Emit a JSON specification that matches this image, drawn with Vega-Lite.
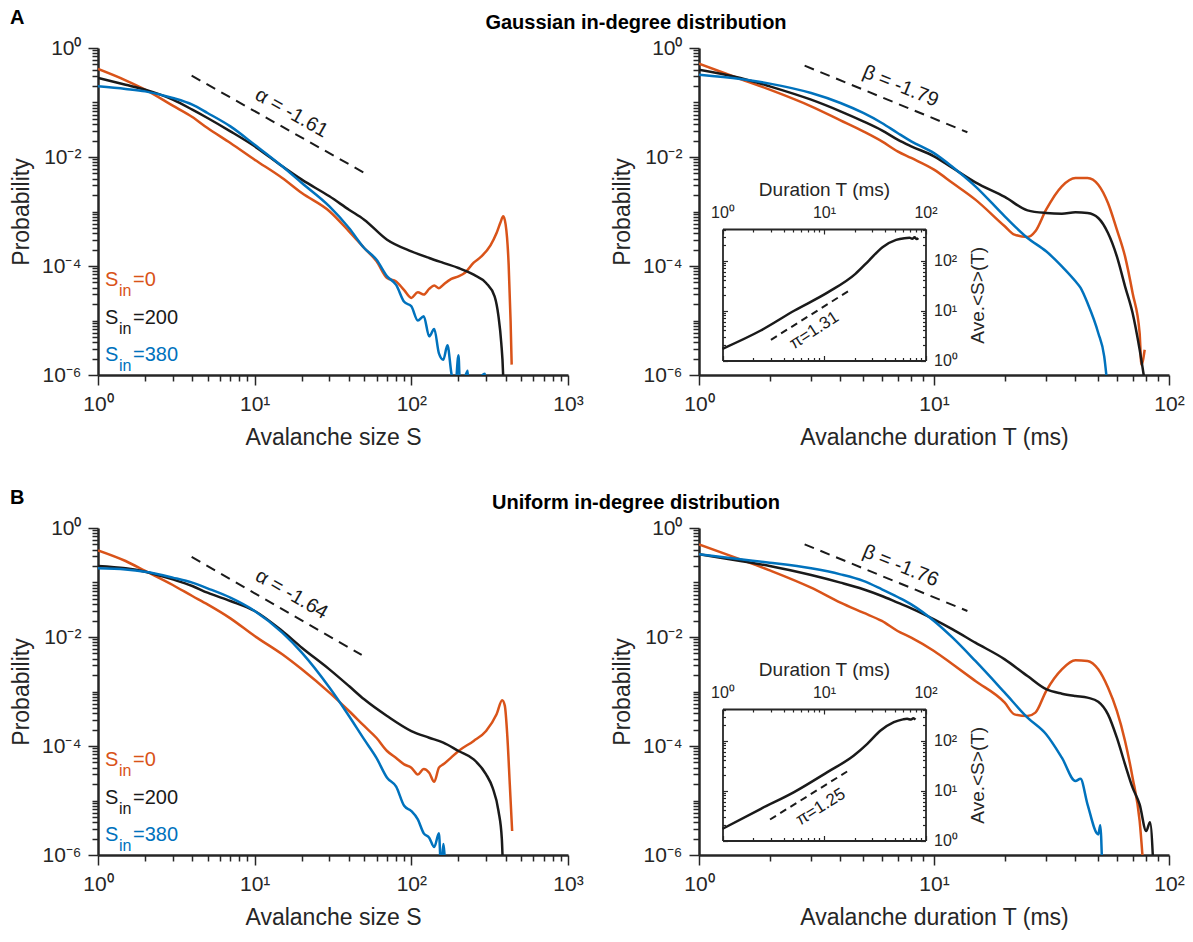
{
 "$schema": "https://vega.github.io/schema/vega-lite/v6.json",
 "background": "white",
 "padding": {"left": 10, "top": 8, "right": 5, "bottom": 5},
 "autosize": {"type": "pad"},
 "config": {
  "font": "Liberation Sans",
  "view": {"stroke": null},
  "axis": {"grid": false, "domainColor": "#262626", "domainWidth": 2.5, "tickColor": "#262626", "tickWidth": 1.5, "labelColor": "#262626", "labelFontSize": 21, "titleColor": "#262626", "titleFontSize": 23, "titleFontWeight": "normal", "labelFlush": false, "labelOverlap": false},
  "title": {"fontSize": 20, "fontWeight": "bold", "color": "#000000"}
 },
 "datasets": {
  "tl": [
   {"Sin":"0","S":1,"P":0.412},{"Sin":"0","S":1.5,"P":0.255},{"Sin":"0","S":2,"P":0.172},{"Sin":"0","S":3,"P":0.0875},{"Sin":"0","S":4,"P":0.0542},{"Sin":"0","S":5,"P":0.034},{"Sin":"0","S":7,"P":0.0181},{"Sin":"0","S":10,"P":0.00893},{"Sin":"0","S":15,"P":0.00412},{"Sin":"0","S":20,"P":0.00218},{"Sin":"0","S":30,"P":0.00101},{"Sin":"0","S":40,"P":0.000433},{"Sin":"0","S":50,"P":0.000214},{"Sin":"0","S":60,"P":0.000122},{"Sin":"0","S":70,"P":0.00006},{"Sin":"0","S":80,"P":0.000052},{"Sin":"0","S":90,"P":0.000036},{"Sin":"0","S":100,"P":0.000026},{"Sin":"0","S":110,"P":0.000033},{"Sin":"0","S":120,"P":0.00003},{"Sin":"0","S":130,"P":0.000038},{"Sin":"0","S":140,"P":0.000044},{"Sin":"0","S":150,"P":0.000039},{"Sin":"0","S":160,"P":0.0000454},{"Sin":"0","S":180,"P":0.000058},{"Sin":"0","S":200,"P":0.0000646},{"Sin":"0","S":220,"P":0.000075},{"Sin":"0","S":250,"P":0.000115},{"Sin":"0","S":280,"P":0.00015},{"Sin":"0","S":320,"P":0.00024},{"Sin":"0","S":350,"P":0.000403},{"Sin":"0","S":370,"P":0.00062},{"Sin":"0","S":386,"P":0.000817},{"Sin":"0","S":400,"P":0.000575},{"Sin":"0","S":418,"P":0.000106},{"Sin":"0","S":430,"P":0.00001},{"Sin":"0","S":437,"P":0.00000155},
   {"Sin":"200","S":1,"P":0.282},{"Sin":"200","S":1.5,"P":0.212},{"Sin":"200","S":2,"P":0.172},{"Sin":"200","S":3,"P":0.1127},{"Sin":"200","S":4,"P":0.0739},{"Sin":"200","S":5,"P":0.052},{"Sin":"200","S":7,"P":0.0296},{"Sin":"200","S":10,"P":0.0157},{"Sin":"200","S":15,"P":0.00675},{"Sin":"200","S":20,"P":0.00384},{"Sin":"200","S":30,"P":0.0019},{"Sin":"200","S":40,"P":0.00108},{"Sin":"200","S":50,"P":0.000708},{"Sin":"200","S":70,"P":0.000304},{"Sin":"200","S":100,"P":0.000186},{"Sin":"200","S":130,"P":0.00014},{"Sin":"200","S":160,"P":0.000114},{"Sin":"200","S":200,"P":0.0000919},{"Sin":"200","S":250,"P":0.0000693},{"Sin":"200","S":300,"P":0.0000488},{"Sin":"200","S":340,"P":0.0000277},{"Sin":"200","S":360,"P":0.0000119},{"Sin":"200","S":375,"P":0.00000386},{"Sin":"200","S":385,"P":0.00000109},{"Sin":"200","S":388,"P":0.0000005},
   {"Sin":"380","S":1,"P":0.198},{"Sin":"380","S":1.5,"P":0.177},{"Sin":"380","S":2,"P":0.16},{"Sin":"380","S":3,"P":0.121},{"Sin":"380","S":4,"P":0.0912},{"Sin":"380","S":5,"P":0.0642},{"Sin":"380","S":7,"P":0.0365},{"Sin":"380","S":10,"P":0.0168},{"Sin":"380","S":15,"P":0.00675},{"Sin":"380","S":20,"P":0.00333},{"Sin":"380","S":30,"P":0.00124},{"Sin":"380","S":40,"P":0.000498},{"Sin":"380","S":50,"P":0.000214},{"Sin":"380","S":60,"P":0.00013},{"Sin":"380","S":70,"P":0.0000646},{"Sin":"380","S":80,"P":0.000045},{"Sin":"380","S":90,"P":0.000022},{"Sin":"380","S":100,"P":0.0000182},{"Sin":"380","S":110,"P":0.00001},{"Sin":"380","S":120,"P":0.000012},{"Sin":"380","S":130,"P":0.00000512},{"Sin":"380","S":140,"P":0.000007},{"Sin":"380","S":150,"P":0.0000025},{"Sin":"380","S":160,"P":0.00000191},{"Sin":"380","S":170,"P":0.0000035},{"Sin":"380","S":180,"P":0.00000109},{"Sin":"380","S":190,"P":0.0000005},{"Sin":"380","S":200,"P":0.0000023},{"Sin":"380","S":205,"P":0.0000005},{"Sin":"380","S":229,"P":0.0000012},{"Sin":"380","S":232,"P":0.0000005},{"Sin":"380","S":295,"P":0.00000105},{"Sin":"380","S":298,"P":0.0000005}
  ],
  "tr": [
   {"Sin":"0","T":1,"P":0.516},{"Sin":"0","T":1.5,"P":0.27},{"Sin":"0","T":2,"P":0.172},{"Sin":"0","T":3,"P":0.0851},{"Sin":"0","T":4,"P":0.0471},{"Sin":"0","T":5,"P":0.0296},{"Sin":"0","T":6,"P":0.0194},{"Sin":"0","T":7,"P":0.0127},{"Sin":"0","T":8,"P":0.00959},{"Sin":"0","T":10,"P":0.00586},{"Sin":"0","T":12,"P":0.00333},{"Sin":"0","T":15,"P":0.00165},{"Sin":"0","T":20,"P":0.000535},{"Sin":"0","T":22,"P":0.000376},{"Sin":"0","T":25,"P":0.00034},{"Sin":"0","T":27,"P":0.000433},{"Sin":"0","T":30,"P":0.00108},{"Sin":"0","T":35,"P":0.0029},{"Sin":"0","T":40,"P":0.00412},{"Sin":"0","T":45,"P":0.00412},{"Sin":"0","T":50,"P":0.0031},{"Sin":"0","T":55,"P":0.00143},{"Sin":"0","T":60,"P":0.000464},{"Sin":"0","T":65,"P":0.00015},{"Sin":"0","T":70,"P":0.000032},{"Sin":"0","T":75,"P":0.0000059},{"Sin":"0","T":76.3,"P":0.00000155},{"Sin":"0","T":78.8,"P":0.0000029},
   {"Sin":"200","T":1,"P":0.4},{"Sin":"200","T":1.5,"P":0.282},{"Sin":"200","T":2,"P":0.198},{"Sin":"200","T":3,"P":0.1127},{"Sin":"200","T":4,"P":0.0689},{"Sin":"200","T":5,"P":0.0451},{"Sin":"200","T":6,"P":0.0308},{"Sin":"200","T":7,"P":0.0208},{"Sin":"200","T":8,"P":0.0157},{"Sin":"200","T":10,"P":0.0103},{"Sin":"200","T":12,"P":0.00628},{"Sin":"200","T":15,"P":0.00343},{"Sin":"200","T":20,"P":0.00185},{"Sin":"200","T":25,"P":0.00105},{"Sin":"200","T":30,"P":0.000938},{"Sin":"200","T":35,"P":0.000912},{"Sin":"200","T":40,"P":0.000966},{"Sin":"200","T":45,"P":0.000938},{"Sin":"200","T":50,"P":0.00076},{"Sin":"200","T":55,"P":0.000403},{"Sin":"200","T":60,"P":0.00015},{"Sin":"200","T":65,"P":0.0000424},{"Sin":"200","T":70,"P":0.0000137},{"Sin":"200","T":75,"P":0.00000292},{"Sin":"200","T":80,"P":0.0000005},
   {"Sin":"380","T":1,"P":0.324},{"Sin":"380","T":1.5,"P":0.27},{"Sin":"380","T":2,"P":0.222},{"Sin":"380","T":3,"P":0.149},{"Sin":"380","T":4,"P":0.0979},{"Sin":"380","T":5,"P":0.0642},{"Sin":"380","T":6,"P":0.0421},{"Sin":"380","T":7,"P":0.0276},{"Sin":"380","T":8,"P":0.0194},{"Sin":"380","T":10,"P":0.0118},{"Sin":"380","T":12,"P":0.00656},{"Sin":"380","T":15,"P":0.0029},{"Sin":"380","T":20,"P":0.000815},{"Sin":"380","T":25,"P":0.000327},{"Sin":"380","T":30,"P":0.000186},{"Sin":"380","T":35,"P":0.0000986},{"Sin":"380","T":40,"P":0.0000524},{"Sin":"380","T":42,"P":0.00004},{"Sin":"380","T":45,"P":0.0000209},{"Sin":"380","T":50,"P":0.0000059},{"Sin":"380","T":53,"P":0.0000022},{"Sin":"380","T":55,"P":0.0000005}
  ],
  "bl": [
   {"Sin":"0","S":1,"P":0.389},{"Sin":"0","S":1.5,"P":0.248},{"Sin":"0","S":2,"P":0.163},{"Sin":"0","S":3,"P":0.09},{"Sin":"0","S":4,"P":0.0565},{"Sin":"0","S":5,"P":0.0397},{"Sin":"0","S":7,"P":0.022},{"Sin":"0","S":10,"P":0.0104},{"Sin":"0","S":15,"P":0.00481},{"Sin":"0","S":20,"P":0.00255},{"Sin":"0","S":30,"P":0.000952},{"Sin":"0","S":40,"P":0.000439},{"Sin":"0","S":50,"P":0.000233},{"Sin":"0","S":60,"P":0.00014},{"Sin":"0","S":70,"P":0.000081},{"Sin":"0","S":80,"P":0.00006},{"Sin":"0","S":90,"P":0.000046},{"Sin":"0","S":100,"P":0.00004},{"Sin":"0","S":110,"P":0.00003},{"Sin":"0","S":120,"P":0.000038},{"Sin":"0","S":130,"P":0.0000324},{"Sin":"0","S":140,"P":0.000022},{"Sin":"0","S":150,"P":0.00004},{"Sin":"0","S":160,"P":0.0000461},{"Sin":"0","S":180,"P":0.000062},{"Sin":"0","S":200,"P":0.000081},{"Sin":"0","S":250,"P":0.000124},{"Sin":"0","S":300,"P":0.000188},{"Sin":"0","S":350,"P":0.000381},{"Sin":"0","S":380,"P":0.00069},{"Sin":"0","S":395,"P":0.00055},{"Sin":"0","S":410,"P":0.00015},{"Sin":"0","S":425,"P":0.00002},{"Sin":"0","S":440,"P":0.00000275},
   {"Sin":"200","S":1,"P":0.201},{"Sin":"200","S":1.5,"P":0.182},{"Sin":"200","S":2,"P":0.158},{"Sin":"200","S":3,"P":0.114},{"Sin":"200","S":4,"P":0.0863},{"Sin":"200","S":5,"P":0.065},{"Sin":"200","S":7,"P":0.0458},{"Sin":"200","S":10,"P":0.03},{"Sin":"200","S":15,"P":0.0129},{"Sin":"200","S":20,"P":0.00637},{"Sin":"200","S":30,"P":0.00255},{"Sin":"200","S":40,"P":0.00126},{"Sin":"200","S":50,"P":0.000718},{"Sin":"200","S":70,"P":0.000355},{"Sin":"200","S":100,"P":0.000188},{"Sin":"200","S":130,"P":0.000142},{"Sin":"200","S":160,"P":0.000115},{"Sin":"200","S":200,"P":0.000081},{"Sin":"200","S":250,"P":0.0000569},{"Sin":"200","S":300,"P":0.0000302},{"Sin":"200","S":330,"P":0.0000172},{"Sin":"200","S":360,"P":0.00000641},{"Sin":"200","S":378,"P":0.000002},{"Sin":"200","S":385,"P":0.0000005},
   {"Sin":"380","S":1,"P":0.182},{"Sin":"380","S":1.5,"P":0.174},{"Sin":"380","S":2,"P":0.158},{"Sin":"380","S":3,"P":0.123},{"Sin":"380","S":4,"P":0.0993},{"Sin":"380","S":5,"P":0.0782},{"Sin":"380","S":7,"P":0.0527},{"Sin":"380","S":10,"P":0.03},{"Sin":"380","S":15,"P":0.012},{"Sin":"380","S":20,"P":0.00516},{"Sin":"380","S":30,"P":0.00118},{"Sin":"380","S":40,"P":0.000355},{"Sin":"380","S":50,"P":0.000132},{"Sin":"380","S":60,"P":0.00006},{"Sin":"380","S":70,"P":0.0000262},{"Sin":"380","S":80,"P":0.000018},{"Sin":"380","S":90,"P":0.000008},{"Sin":"380","S":100,"P":0.00000641},{"Sin":"380","S":110,"P":0.0000045},{"Sin":"380","S":120,"P":0.0000025},{"Sin":"380","S":130,"P":0.00000208},{"Sin":"380","S":140,"P":0.0000014},{"Sin":"380","S":150,"P":0.0000025},{"Sin":"380","S":155,"P":0.0000005},{"Sin":"380","S":160,"P":0.0000016},{"Sin":"380","S":165,"P":0.0000005}
  ],
  "br": [
   {"Sin":"0","T":1,"P":0.501},{"Sin":"0","T":1.5,"P":0.266},{"Sin":"0","T":2,"P":0.167},{"Sin":"0","T":3,"P":0.0804},{"Sin":"0","T":4,"P":0.0427},{"Sin":"0","T":5,"P":0.0279},{"Sin":"0","T":6,"P":0.0197},{"Sin":"0","T":7,"P":0.0129},{"Sin":"0","T":8,"P":0.00972},{"Sin":"0","T":10,"P":0.00553},{"Sin":"0","T":12,"P":0.00315},{"Sin":"0","T":15,"P":0.00156},{"Sin":"0","T":20,"P":0.000624},{"Sin":"0","T":22,"P":0.000381},{"Sin":"0","T":25,"P":0.000355},{"Sin":"0","T":27,"P":0.000409},{"Sin":"0","T":30,"P":0.00102},{"Sin":"0","T":35,"P":0.00255},{"Sin":"0","T":40,"P":0.00373},{"Sin":"0","T":45,"P":0.00363},{"Sin":"0","T":50,"P":0.00255},{"Sin":"0","T":55,"P":0.00118},{"Sin":"0","T":60,"P":0.000439},{"Sin":"0","T":65,"P":0.000124},{"Sin":"0","T":70,"P":0.0000262},{"Sin":"0","T":75,"P":0.00000421},{"Sin":"0","T":78,"P":0.0000005},
   {"Sin":"200","T":1,"P":0.329},{"Sin":"200","T":1.5,"P":0.248},{"Sin":"200","T":2,"P":0.201},{"Sin":"200","T":3,"P":0.137},{"Sin":"200","T":4,"P":0.0993},{"Sin":"200","T":5,"P":0.075},{"Sin":"200","T":6,"P":0.0565},{"Sin":"200","T":7,"P":0.0427},{"Sin":"200","T":8,"P":0.0336},{"Sin":"200","T":10,"P":0.0211},{"Sin":"200","T":12,"P":0.0138},{"Sin":"200","T":15,"P":0.00787},{"Sin":"200","T":20,"P":0.00389},{"Sin":"200","T":25,"P":0.00192},{"Sin":"200","T":30,"P":0.0011},{"Sin":"200","T":35,"P":0.000912},{"Sin":"200","T":40,"P":0.000826},{"Sin":"200","T":45,"P":0.000771},{"Sin":"200","T":50,"P":0.00065},{"Sin":"200","T":55,"P":0.000381},{"Sin":"200","T":60,"P":0.000142},{"Sin":"200","T":65,"P":0.0000461},{"Sin":"200","T":70,"P":0.0000172},{"Sin":"200","T":75,"P":0.00000851},{"Sin":"200","T":80,"P":0.00000275},{"Sin":"200","T":83,"P":0.000004},{"Sin":"200","T":86,"P":0.0000005},
   {"Sin":"380","T":1,"P":0.329},{"Sin":"380","T":1.5,"P":0.266},{"Sin":"380","T":2,"P":0.231},{"Sin":"380","T":3,"P":0.182},{"Sin":"380","T":4,"P":0.141},{"Sin":"380","T":5,"P":0.107},{"Sin":"380","T":6,"P":0.075},{"Sin":"380","T":7,"P":0.0542},{"Sin":"380","T":8,"P":0.0397},{"Sin":"380","T":10,"P":0.0197},{"Sin":"380","T":12,"P":0.00972},{"Sin":"380","T":15,"P":0.00363},{"Sin":"380","T":20,"P":0.000952},{"Sin":"380","T":25,"P":0.000331},{"Sin":"380","T":30,"P":0.000164},{"Sin":"380","T":35,"P":0.0000611},{"Sin":"380","T":40,"P":0.0000228},{"Sin":"380","T":42,"P":0.000025},{"Sin":"380","T":45,"P":0.00000851},{"Sin":"380","T":50,"P":0.00000239},{"Sin":"380","T":51,"P":0.0000035},{"Sin":"380","T":52,"P":0.0000005}
  ],
  "tri": [
   {"T":1,"Savg":1.71},{"T":2.38,"Savg":3.98},{"T":5.13,"Savg":10},{"T":11,"Savg":23.3},{"T":20.4,"Savg":54.1},{"T":27.7,"Savg":100},{"T":37.7,"Savg":185},{"T":51.3,"Savg":259},{"T":62,"Savg":280},{"T":69.7,"Savg":285},{"T":74,"Savg":272},{"T":78,"Savg":292},{"T":82,"Savg":268},{"T":85,"Savg":280}
  ],
  "bri": [
   {"T":1,"Savg":1.71},{"T":2.39,"Savg":4.31},{"T":5.07,"Savg":9.29},{"T":10.8,"Savg":23.3},{"T":19.7,"Savg":50.1},{"T":26.7,"Savg":85.9},{"T":36.1,"Savg":158},{"T":48.8,"Savg":233},{"T":60,"Savg":265},{"T":65.9,"Savg":272},{"T":72,"Savg":262},{"T":76,"Savg":280},{"T":79.6,"Savg":263}
  ],
  "leg": [
   {"S":1.108,"P":0.000043,"label":"=0","Sin":"0"},
   {"S":1.108,"P":0.0000088,"label":"=200","Sin":"200"},
   {"S":1.108,"P":0.0000018,"label":"=380","Sin":"380"}
  ]
 },
 "columns": 2,
 "spacing": {"row": 153, "column": 131},
 "bounds": "flush",
 "concat": [
  {
   "width": 470, "height": 327,
   "title": {"text": "A", "anchor": "start", "frame": "group", "dx": -88, "dy": -5},
   "resolve": {"scale": {"x": "independent", "y": "independent"}},
   "layer": [
    {"data": {"name": "tl"}, "mark": {"type": "line", "clip": true, "strokeWidth": 2.5, "interpolate": "monotone"},
     "encoding": {
      "x": {"field": "S", "type": "quantitative", "scale": {"type": "log", "domain": [1, 1000], "nice": false},
        "axis": {"orient": "bottom", "values": [1, 10, 100, 1000], "labelExpr": "datum.value==1?'10⁰':datum.value==10?'10¹':datum.value==100?'10²':'10³'", "tickSize": 10, "labelPadding": 8, "title": "Avalanche size S", "titlePadding": 12}},
      "y": {"field": "P", "type": "quantitative", "scale": {"type": "log", "domain": [0.000001, 1], "nice": false},
        "axis": {"orient": "left", "values": [0.000001, 0.0001, 0.01, 1], "labelExpr": "abs(datum.value-1)<1e-9?'10⁰':abs(datum.value/0.01-1)<1e-6?'10⁻²':abs(datum.value/0.0001-1)<1e-6?'10⁻⁴':'10⁻⁶'", "tickSize": 10, "labelPadding": 7, "title": "Probability", "titlePadding": 8}},
      "color": {"field": "Sin", "type": "nominal", "scale": {"domain": ["0", "200", "380"], "range": ["#D95319", "#1A1A1A", "#0072BD"]}, "legend": null}
     }},
    {"data": {"values": [{"S": 3.96, "P": 0.311}, {"S": 49.4, "P": 0.00523}]}, "mark": {"type": "line", "strokeDash": [10, 7], "strokeWidth": 2, "color": "#1A1A1A"},
     "encoding": {
      "x": {"field": "S", "type": "quantitative", "scale": {"type": "log", "domain": [1, 1000], "nice": false}, "axis": {"orient": "bottom", "values": [2,3,4,5,6,7,8,9,20,30,40,50,60,70,80,90,200,300,400,500,600,700,800,900], "labels": false, "domain": false, "tickSize": 6, "title": null}},
      "y": {"field": "P", "type": "quantitative", "scale": {"type": "log", "domain": [0.000001, 1], "nice": false}, "axis": {"orient": "left", "values": [2e-6,3e-6,4e-6,5e-6,6e-6,7e-6,8e-6,9e-6,1e-5,2e-5,3e-5,4e-5,5e-5,6e-5,7e-5,8e-5,9e-5,2e-4,3e-4,4e-4,5e-4,6e-4,7e-4,8e-4,9e-4,0.001,0.002,0.003,0.004,0.005,0.006,0.007,0.008,0.009,0.02,0.03,0.04,0.05,0.06,0.07,0.08,0.09,0.1,0.2,0.3,0.4,0.5,0.6,0.7,0.8,0.9], "labels": false, "domain": false, "tickSize": 6, "title": null}}}},
    {"data": {"values": [{"S": 17.2, "P": 0.064, "t": "α = -1.61"}]}, "mark": {"type": "text", "angle": 29.5, "fontSize": 20, "color": "#1A1A1A", "align": "center", "baseline": "middle"},
     "encoding": {"x": {"field": "S", "type": "quantitative", "scale": {"type": "log", "domain": [1, 1000], "nice": false}, "axis": null}, "y": {"field": "P", "type": "quantitative", "scale": {"type": "log", "domain": [0.000001, 1], "nice": false}, "axis": null}, "text": {"field": "t"}}},
    {"data": {"name": "leg"}, "mark": {"type": "text", "text": "S", "fontSize": 20, "align": "left", "baseline": "alphabetic"},
     "encoding": {"x": {"field": "S", "type": "quantitative", "scale": {"type": "log", "domain": [1, 1000], "nice": false}, "axis": null}, "y": {"field": "P", "type": "quantitative", "scale": {"type": "log", "domain": [0.000001, 1], "nice": false}, "axis": null}, "color": {"field": "Sin", "type": "nominal", "scale": {"domain": ["0", "200", "380"], "range": ["#D95319", "#1A1A1A", "#0072BD"]}, "legend": null}}},
    {"data": {"name": "leg"}, "mark": {"type": "text", "text": "in", "fontSize": 16, "align": "left", "baseline": "alphabetic", "dx": 14, "dy": 10},
     "encoding": {"x": {"field": "S", "type": "quantitative", "scale": {"type": "log", "domain": [1, 1000], "nice": false}, "axis": null}, "y": {"field": "P", "type": "quantitative", "scale": {"type": "log", "domain": [0.000001, 1], "nice": false}, "axis": null}, "color": {"field": "Sin", "type": "nominal", "scale": {"domain": ["0", "200", "380"], "range": ["#D95319", "#1A1A1A", "#0072BD"]}, "legend": null}}},
    {"data": {"name": "leg"}, "mark": {"type": "text", "fontSize": 20, "align": "left", "baseline": "alphabetic", "dx": 28},
     "encoding": {"x": {"field": "S", "type": "quantitative", "scale": {"type": "log", "domain": [1, 1000], "nice": false}, "axis": null}, "y": {"field": "P", "type": "quantitative", "scale": {"type": "log", "domain": [0.000001, 1], "nice": false}, "axis": null}, "text": {"field": "label"}, "color": {"field": "Sin", "type": "nominal", "scale": {"domain": ["0", "200", "380"], "range": ["#D95319", "#1A1A1A", "#0072BD"]}, "legend": null}}}
   ]
  },
  {
   "width": 470, "height": 327,
   "title": {"text": "Gaussian in-degree distribution", "anchor": "middle", "frame": "group", "dx": -298},
   "resolve": {"scale": {"x": "independent", "y": "independent"}},
   "layer": [
    {"data": {"name": "tr"}, "mark": {"type": "line", "clip": true, "strokeWidth": 2.5, "interpolate": "monotone"},
     "encoding": {
      "x": {"field": "T", "type": "quantitative", "scale": {"type": "log", "domain": [1, 100], "nice": false},
        "axis": {"orient": "bottom", "values": [1, 10, 100], "labelExpr": "datum.value==1?'10⁰':datum.value==10?'10¹':'10²'", "tickSize": 10, "labelPadding": 8, "title": "Avalanche duration T (ms)", "titlePadding": 12}},
      "y": {"field": "P", "type": "quantitative", "scale": {"type": "log", "domain": [0.000001, 1], "nice": false},
        "axis": {"orient": "left", "values": [0.000001, 0.0001, 0.01, 1], "labelExpr": "abs(datum.value-1)<1e-9?'10⁰':abs(datum.value/0.01-1)<1e-6?'10⁻²':abs(datum.value/0.0001-1)<1e-6?'10⁻⁴':'10⁻⁶'", "tickSize": 10, "labelPadding": 7, "title": "Probability", "titlePadding": 8}},
      "color": {"field": "Sin", "type": "nominal", "scale": {"domain": ["0", "200", "380"], "range": ["#D95319", "#1A1A1A", "#0072BD"]}, "legend": null}
     }},
    {"data": {"values": [{"T": 2.815, "P": 0.474}, {"T": 13.87, "P": 0.0284}]}, "mark": {"type": "line", "strokeDash": [10, 7], "strokeWidth": 2, "color": "#1A1A1A"},
     "encoding": {
      "x": {"field": "T", "type": "quantitative", "scale": {"type": "log", "domain": [1, 100], "nice": false}, "axis": {"orient": "bottom", "values": [2,3,4,5,6,7,8,9,20,30,40,50,60,70,80,90], "labels": false, "domain": false, "tickSize": 6, "title": null}},
      "y": {"field": "P", "type": "quantitative", "scale": {"type": "log", "domain": [0.000001, 1], "nice": false}, "axis": {"orient": "left", "values": [2e-6,3e-6,4e-6,5e-6,6e-6,7e-6,8e-6,9e-6,1e-5,2e-5,3e-5,4e-5,5e-5,6e-5,7e-5,8e-5,9e-5,2e-4,3e-4,4e-4,5e-4,6e-4,7e-4,8e-4,9e-4,0.001,0.002,0.003,0.004,0.005,0.006,0.007,0.008,0.009,0.02,0.03,0.04,0.05,0.06,0.07,0.08,0.09,0.1,0.2,0.3,0.4,0.5,0.6,0.7,0.8,0.9], "labels": false, "domain": false, "tickSize": 6, "title": null}}}},
    {"data": {"values": [{"T": 7.21, "P": 0.198, "t": "β = -1.79"}]}, "mark": {"type": "text", "angle": 22.3, "fontSize": 20, "color": "#1A1A1A", "align": "center", "baseline": "middle"},
     "encoding": {"x": {"field": "T", "type": "quantitative", "scale": {"type": "log", "domain": [1, 100], "nice": false}, "axis": null}, "y": {"field": "P", "type": "quantitative", "scale": {"type": "log", "domain": [0.000001, 1], "nice": false}, "axis": null}, "text": {"field": "t"}}},
    {"data": {"name": "tri"}, "mark": {"type": "line", "strokeWidth": 2.5, "color": "#1A1A1A", "interpolate": "monotone"},
     "encoding": {
      "x": {"field": "T", "type": "quantitative", "scale": {"type": "log", "domain": [1, 100], "range": [23.5, 226.5], "nice": false},
        "axis": {"orient": "top", "offset": -181, "values": [1, 10, 100], "labelExpr": "datum.value==1?'10⁰':datum.value==10?'10¹':'10²'", "tickSize": -5, "labelPadding": 14, "labelFontSize": 16, "domainWidth": 1.8, "tickWidth": 1.2, "title": "Duration T (ms)", "titleFontSize": 19, "titlePadding": 5}},
      "y": {"field": "Savg", "type": "quantitative", "scale": {"type": "log", "domain": [1, 427], "range": [312.5, 181], "nice": false},
        "axis": {"orient": "right", "offset": -243.5, "values": [1, 10, 100], "labelExpr": "datum.value==1?'10⁰':datum.value==10?'10¹':'10²'", "tickSize": -5, "labelPadding": 13, "labelFontSize": 16, "domainWidth": 1.8, "tickWidth": 1.2, "title": "Ave.<S>(T)", "titleFontSize": 19, "titleAngle": 270, "titlePadding": 30}}
     }},
    {"data": {"values": [{"T": 3.0, "Savg": 2.59}, {"T": 18.2, "Savg": 25.9}]}, "mark": {"type": "line", "strokeDash": [7, 5], "strokeWidth": 2, "color": "#1A1A1A"},
     "encoding": {
      "x": {"field": "T", "type": "quantitative", "scale": {"type": "log", "domain": [1, 100], "range": [23.5, 226.5], "nice": false},
        "axis": {"orient": "bottom", "offset": -14.5, "values": [1, 10, 100], "labels": false, "tickSize": -5, "domainWidth": 1.8, "tickWidth": 1.2, "title": null}},
      "y": {"field": "Savg", "type": "quantitative", "scale": {"type": "log", "domain": [1, 427], "range": [312.5, 181], "nice": false},
        "axis": {"orient": "left", "offset": -23.5, "values": [1, 10, 100], "labels": false, "tickSize": -5, "domainWidth": 1.8, "tickWidth": 1.2, "title": null}}
     }},
    {"data": {"values": [{"T": 8.0, "Savg": 3.98, "t": "π=1.31"}]}, "mark": {"type": "text", "angle": -33, "fontSize": 17, "color": "#1A1A1A", "align": "center", "baseline": "middle"},
     "encoding": {
      "x": {"field": "T", "type": "quantitative", "scale": {"type": "log", "domain": [1, 100], "range": [23.5, 226.5], "nice": false}, "axis": {"orient": "top", "offset": -181, "values": [2,3,4,5,6,7,8,9,20,30,40,50,60,70,80,90], "labels": false, "domain": false, "tickSize": -3, "tickWidth": 1.2, "title": null}},
      "y": {"field": "Savg", "type": "quantitative", "scale": {"type": "log", "domain": [1, 427], "range": [312.5, 181], "nice": false}, "axis": {"orient": "right", "offset": -243.5, "values": [2,3,4,5,6,7,8,9,20,30,40,50,60,70,80,90,200,300,400], "labels": false, "domain": false, "tickSize": -3, "tickWidth": 1.2, "title": null}},
      "text": {"field": "t"}}},
    {"data": {"name": "tri"}, "mark": {"type": "line", "opacity": 0},
     "encoding": {
      "x": {"field": "T", "type": "quantitative", "scale": {"type": "log", "domain": [1, 100], "range": [23.5, 226.5], "nice": false}, "axis": {"orient": "bottom", "offset": -14.5, "values": [2,3,4,5,6,7,8,9,20,30,40,50,60,70,80,90], "labels": false, "domain": false, "tickSize": -3, "tickWidth": 1.2, "title": null}},
      "y": {"field": "Savg", "type": "quantitative", "scale": {"type": "log", "domain": [1, 427], "range": [312.5, 181], "nice": false}, "axis": {"orient": "left", "offset": -23.5, "values": [2,3,4,5,6,7,8,9,20,30,40,50,60,70,80,90,200,300,400], "labels": false, "domain": false, "tickSize": -3, "tickWidth": 1.2, "title": null}}}}
   ]
  },
  {
   "width": 470, "height": 327,
   "title": {"text": "B", "anchor": "start", "frame": "group", "dx": -88, "dy": -5},
   "resolve": {"scale": {"x": "independent", "y": "independent"}},
   "layer": [
    {"data": {"name": "bl"}, "mark": {"type": "line", "clip": true, "strokeWidth": 2.5, "interpolate": "monotone"},
     "encoding": {
      "x": {"field": "S", "type": "quantitative", "scale": {"type": "log", "domain": [1, 1000], "nice": false},
        "axis": {"orient": "bottom", "values": [1, 10, 100, 1000], "labelExpr": "datum.value==1?'10⁰':datum.value==10?'10¹':datum.value==100?'10²':'10³'", "tickSize": 10, "labelPadding": 8, "title": "Avalanche size S", "titlePadding": 12}},
      "y": {"field": "P", "type": "quantitative", "scale": {"type": "log", "domain": [0.000001, 1], "nice": false},
        "axis": {"orient": "left", "values": [0.000001, 0.0001, 0.01, 1], "labelExpr": "abs(datum.value-1)<1e-9?'10⁰':abs(datum.value/0.01-1)<1e-6?'10⁻²':abs(datum.value/0.0001-1)<1e-6?'10⁻⁴':'10⁻⁶'", "tickSize": 10, "labelPadding": 7, "title": "Probability", "titlePadding": 8}},
      "color": {"field": "Sin", "type": "nominal", "scale": {"domain": ["0", "200", "380"], "range": ["#D95319", "#1A1A1A", "#0072BD"]}, "legend": null}
     }},
    {"data": {"values": [{"S": 3.96, "P": 0.294}, {"S": 48.2, "P": 0.00468}]}, "mark": {"type": "line", "strokeDash": [10, 7], "strokeWidth": 2, "color": "#1A1A1A"},
     "encoding": {
      "x": {"field": "S", "type": "quantitative", "scale": {"type": "log", "domain": [1, 1000], "nice": false}, "axis": {"orient": "bottom", "values": [2,3,4,5,6,7,8,9,20,30,40,50,60,70,80,90,200,300,400,500,600,700,800,900], "labels": false, "domain": false, "tickSize": 6, "title": null}},
      "y": {"field": "P", "type": "quantitative", "scale": {"type": "log", "domain": [0.000001, 1], "nice": false}, "axis": {"orient": "left", "values": [2e-6,3e-6,4e-6,5e-6,6e-6,7e-6,8e-6,9e-6,1e-5,2e-5,3e-5,4e-5,5e-5,6e-5,7e-5,8e-5,9e-5,2e-4,3e-4,4e-4,5e-4,6e-4,7e-4,8e-4,9e-4,0.001,0.002,0.003,0.004,0.005,0.006,0.007,0.008,0.009,0.02,0.03,0.04,0.05,0.06,0.07,0.08,0.09,0.1,0.2,0.3,0.4,0.5,0.6,0.7,0.8,0.9], "labels": false, "domain": false, "tickSize": 6, "title": null}}}},
    {"data": {"values": [{"S": 17.2, "P": 0.0607, "t": "α = -1.64"}]}, "mark": {"type": "text", "angle": 30, "fontSize": 20, "color": "#1A1A1A", "align": "center", "baseline": "middle"},
     "encoding": {"x": {"field": "S", "type": "quantitative", "scale": {"type": "log", "domain": [1, 1000], "nice": false}, "axis": null}, "y": {"field": "P", "type": "quantitative", "scale": {"type": "log", "domain": [0.000001, 1], "nice": false}, "axis": null}, "text": {"field": "t"}}},
    {"data": {"name": "leg"}, "mark": {"type": "text", "text": "S", "fontSize": 20, "align": "left", "baseline": "alphabetic"},
     "encoding": {"x": {"field": "S", "type": "quantitative", "scale": {"type": "log", "domain": [1, 1000], "nice": false}, "axis": null}, "y": {"field": "P", "type": "quantitative", "scale": {"type": "log", "domain": [0.000001, 1], "nice": false}, "axis": null}, "color": {"field": "Sin", "type": "nominal", "scale": {"domain": ["0", "200", "380"], "range": ["#D95319", "#1A1A1A", "#0072BD"]}, "legend": null}}},
    {"data": {"name": "leg"}, "mark": {"type": "text", "text": "in", "fontSize": 16, "align": "left", "baseline": "alphabetic", "dx": 14, "dy": 10},
     "encoding": {"x": {"field": "S", "type": "quantitative", "scale": {"type": "log", "domain": [1, 1000], "nice": false}, "axis": null}, "y": {"field": "P", "type": "quantitative", "scale": {"type": "log", "domain": [0.000001, 1], "nice": false}, "axis": null}, "color": {"field": "Sin", "type": "nominal", "scale": {"domain": ["0", "200", "380"], "range": ["#D95319", "#1A1A1A", "#0072BD"]}, "legend": null}}},
    {"data": {"name": "leg"}, "mark": {"type": "text", "fontSize": 20, "align": "left", "baseline": "alphabetic", "dx": 28},
     "encoding": {"x": {"field": "S", "type": "quantitative", "scale": {"type": "log", "domain": [1, 1000], "nice": false}, "axis": null}, "y": {"field": "P", "type": "quantitative", "scale": {"type": "log", "domain": [0.000001, 1], "nice": false}, "axis": null}, "text": {"field": "label"}, "color": {"field": "Sin", "type": "nominal", "scale": {"domain": ["0", "200", "380"], "range": ["#D95319", "#1A1A1A", "#0072BD"]}, "legend": null}}}
   ]
  },
  {
   "width": 470, "height": 327,
   "title": {"text": "Uniform in-degree distribution", "anchor": "middle", "frame": "group", "dx": -298},
   "resolve": {"scale": {"x": "independent", "y": "independent"}},
   "layer": [
    {"data": {"name": "br"}, "mark": {"type": "line", "clip": true, "strokeWidth": 2.5, "interpolate": "monotone"},
     "encoding": {
      "x": {"field": "T", "type": "quantitative", "scale": {"type": "log", "domain": [1, 100], "nice": false},
        "axis": {"orient": "bottom", "values": [1, 10, 100], "labelExpr": "datum.value==1?'10⁰':datum.value==10?'10¹':'10²'", "tickSize": 10, "labelPadding": 8, "title": "Avalanche duration T (ms)", "titlePadding": 12}},
      "y": {"field": "P", "type": "quantitative", "scale": {"type": "log", "domain": [0.000001, 1], "nice": false},
        "axis": {"orient": "left", "values": [0.000001, 0.0001, 0.01, 1], "labelExpr": "abs(datum.value-1)<1e-9?'10⁰':abs(datum.value/0.01-1)<1e-6?'10⁻²':abs(datum.value/0.0001-1)<1e-6?'10⁻⁴':'10⁻⁶'", "tickSize": 10, "labelPadding": 7, "title": "Probability", "titlePadding": 8}},
      "color": {"field": "Sin", "type": "nominal", "scale": {"domain": ["0", "200", "380"], "range": ["#D95319", "#1A1A1A", "#0072BD"]}, "legend": null}
     }},
    {"data": {"values": [{"T": 2.815, "P": 0.501}, {"T": 13.87, "P": 0.03}]}, "mark": {"type": "line", "strokeDash": [10, 7], "strokeWidth": 2, "color": "#1A1A1A"},
     "encoding": {
      "x": {"field": "T", "type": "quantitative", "scale": {"type": "log", "domain": [1, 100], "nice": false}, "axis": {"orient": "bottom", "values": [2,3,4,5,6,7,8,9,20,30,40,50,60,70,80,90], "labels": false, "domain": false, "tickSize": 6, "title": null}},
      "y": {"field": "P", "type": "quantitative", "scale": {"type": "log", "domain": [0.000001, 1], "nice": false}, "axis": {"orient": "left", "values": [2e-6,3e-6,4e-6,5e-6,6e-6,7e-6,8e-6,9e-6,1e-5,2e-5,3e-5,4e-5,5e-5,6e-5,7e-5,8e-5,9e-5,2e-4,3e-4,4e-4,5e-4,6e-4,7e-4,8e-4,9e-4,0.001,0.002,0.003,0.004,0.005,0.006,0.007,0.008,0.009,0.02,0.03,0.04,0.05,0.06,0.07,0.08,0.09,0.1,0.2,0.3,0.4,0.5,0.6,0.7,0.8,0.9], "labels": false, "domain": false, "tickSize": 6, "title": null}}}},
    {"data": {"values": [{"T": 7.21, "P": 0.201, "t": "β = -1.76"}]}, "mark": {"type": "text", "angle": 22.3, "fontSize": 20, "color": "#1A1A1A", "align": "center", "baseline": "middle"},
     "encoding": {"x": {"field": "T", "type": "quantitative", "scale": {"type": "log", "domain": [1, 100], "nice": false}, "axis": null}, "y": {"field": "P", "type": "quantitative", "scale": {"type": "log", "domain": [0.000001, 1], "nice": false}, "axis": null}, "text": {"field": "t"}}},
    {"data": {"name": "bri"}, "mark": {"type": "line", "strokeWidth": 2.5, "color": "#1A1A1A", "interpolate": "monotone"},
     "encoding": {
      "x": {"field": "T", "type": "quantitative", "scale": {"type": "log", "domain": [1, 100], "range": [23.5, 226.5], "nice": false},
        "axis": {"orient": "top", "offset": -181, "values": [1, 10, 100], "labelExpr": "datum.value==1?'10⁰':datum.value==10?'10¹':'10²'", "tickSize": -5, "labelPadding": 14, "labelFontSize": 16, "domainWidth": 1.8, "tickWidth": 1.2, "title": "Duration T (ms)", "titleFontSize": 19, "titlePadding": 5}},
      "y": {"field": "Savg", "type": "quantitative", "scale": {"type": "log", "domain": [1, 427], "range": [312.5, 181], "nice": false},
        "axis": {"orient": "right", "offset": -243.5, "values": [1, 10, 100], "labelExpr": "datum.value==1?'10⁰':datum.value==10?'10¹':'10²'", "tickSize": -5, "labelPadding": 13, "labelFontSize": 16, "domainWidth": 1.8, "tickWidth": 1.2, "title": "Ave.<S>(T)", "titleFontSize": 19, "titleAngle": 270, "titlePadding": 30}}
     }},
    {"data": {"values": [{"T": 2.94, "Savg": 2.63}, {"T": 16.9, "Savg": 24.0}]}, "mark": {"type": "line", "strokeDash": [7, 5], "strokeWidth": 2, "color": "#1A1A1A"},
     "encoding": {
      "x": {"field": "T", "type": "quantitative", "scale": {"type": "log", "domain": [1, 100], "range": [23.5, 226.5], "nice": false},
        "axis": {"orient": "bottom", "offset": -14.5, "values": [1, 10, 100], "labels": false, "tickSize": -5, "domainWidth": 1.8, "tickWidth": 1.2, "title": null}},
      "y": {"field": "Savg", "type": "quantitative", "scale": {"type": "log", "domain": [1, 427], "range": [312.5, 181], "nice": false},
        "axis": {"orient": "left", "offset": -23.5, "values": [1, 10, 100], "labels": false, "tickSize": -5, "domainWidth": 1.8, "tickWidth": 1.2, "title": null}}
     }},
    {"data": {"values": [{"T": 9.28, "Savg": 4.66, "t": "π=1.25"}]}, "mark": {"type": "text", "angle": -32, "fontSize": 17, "color": "#1A1A1A", "align": "center", "baseline": "middle"},
     "encoding": {
      "x": {"field": "T", "type": "quantitative", "scale": {"type": "log", "domain": [1, 100], "range": [23.5, 226.5], "nice": false}, "axis": {"orient": "top", "offset": -181, "values": [2,3,4,5,6,7,8,9,20,30,40,50,60,70,80,90], "labels": false, "domain": false, "tickSize": -3, "tickWidth": 1.2, "title": null}},
      "y": {"field": "Savg", "type": "quantitative", "scale": {"type": "log", "domain": [1, 427], "range": [312.5, 181], "nice": false}, "axis": {"orient": "right", "offset": -243.5, "values": [2,3,4,5,6,7,8,9,20,30,40,50,60,70,80,90,200,300,400], "labels": false, "domain": false, "tickSize": -3, "tickWidth": 1.2, "title": null}},
      "text": {"field": "t"}}},
    {"data": {"name": "bri"}, "mark": {"type": "line", "opacity": 0},
     "encoding": {
      "x": {"field": "T", "type": "quantitative", "scale": {"type": "log", "domain": [1, 100], "range": [23.5, 226.5], "nice": false}, "axis": {"orient": "bottom", "offset": -14.5, "values": [2,3,4,5,6,7,8,9,20,30,40,50,60,70,80,90], "labels": false, "domain": false, "tickSize": -3, "tickWidth": 1.2, "title": null}},
      "y": {"field": "Savg", "type": "quantitative", "scale": {"type": "log", "domain": [1, 427], "range": [312.5, 181], "nice": false}, "axis": {"orient": "left", "offset": -23.5, "values": [2,3,4,5,6,7,8,9,20,30,40,50,60,70,80,90,200,300,400], "labels": false, "domain": false, "tickSize": -3, "tickWidth": 1.2, "title": null}}}}
   ]
  }
 ]
}
